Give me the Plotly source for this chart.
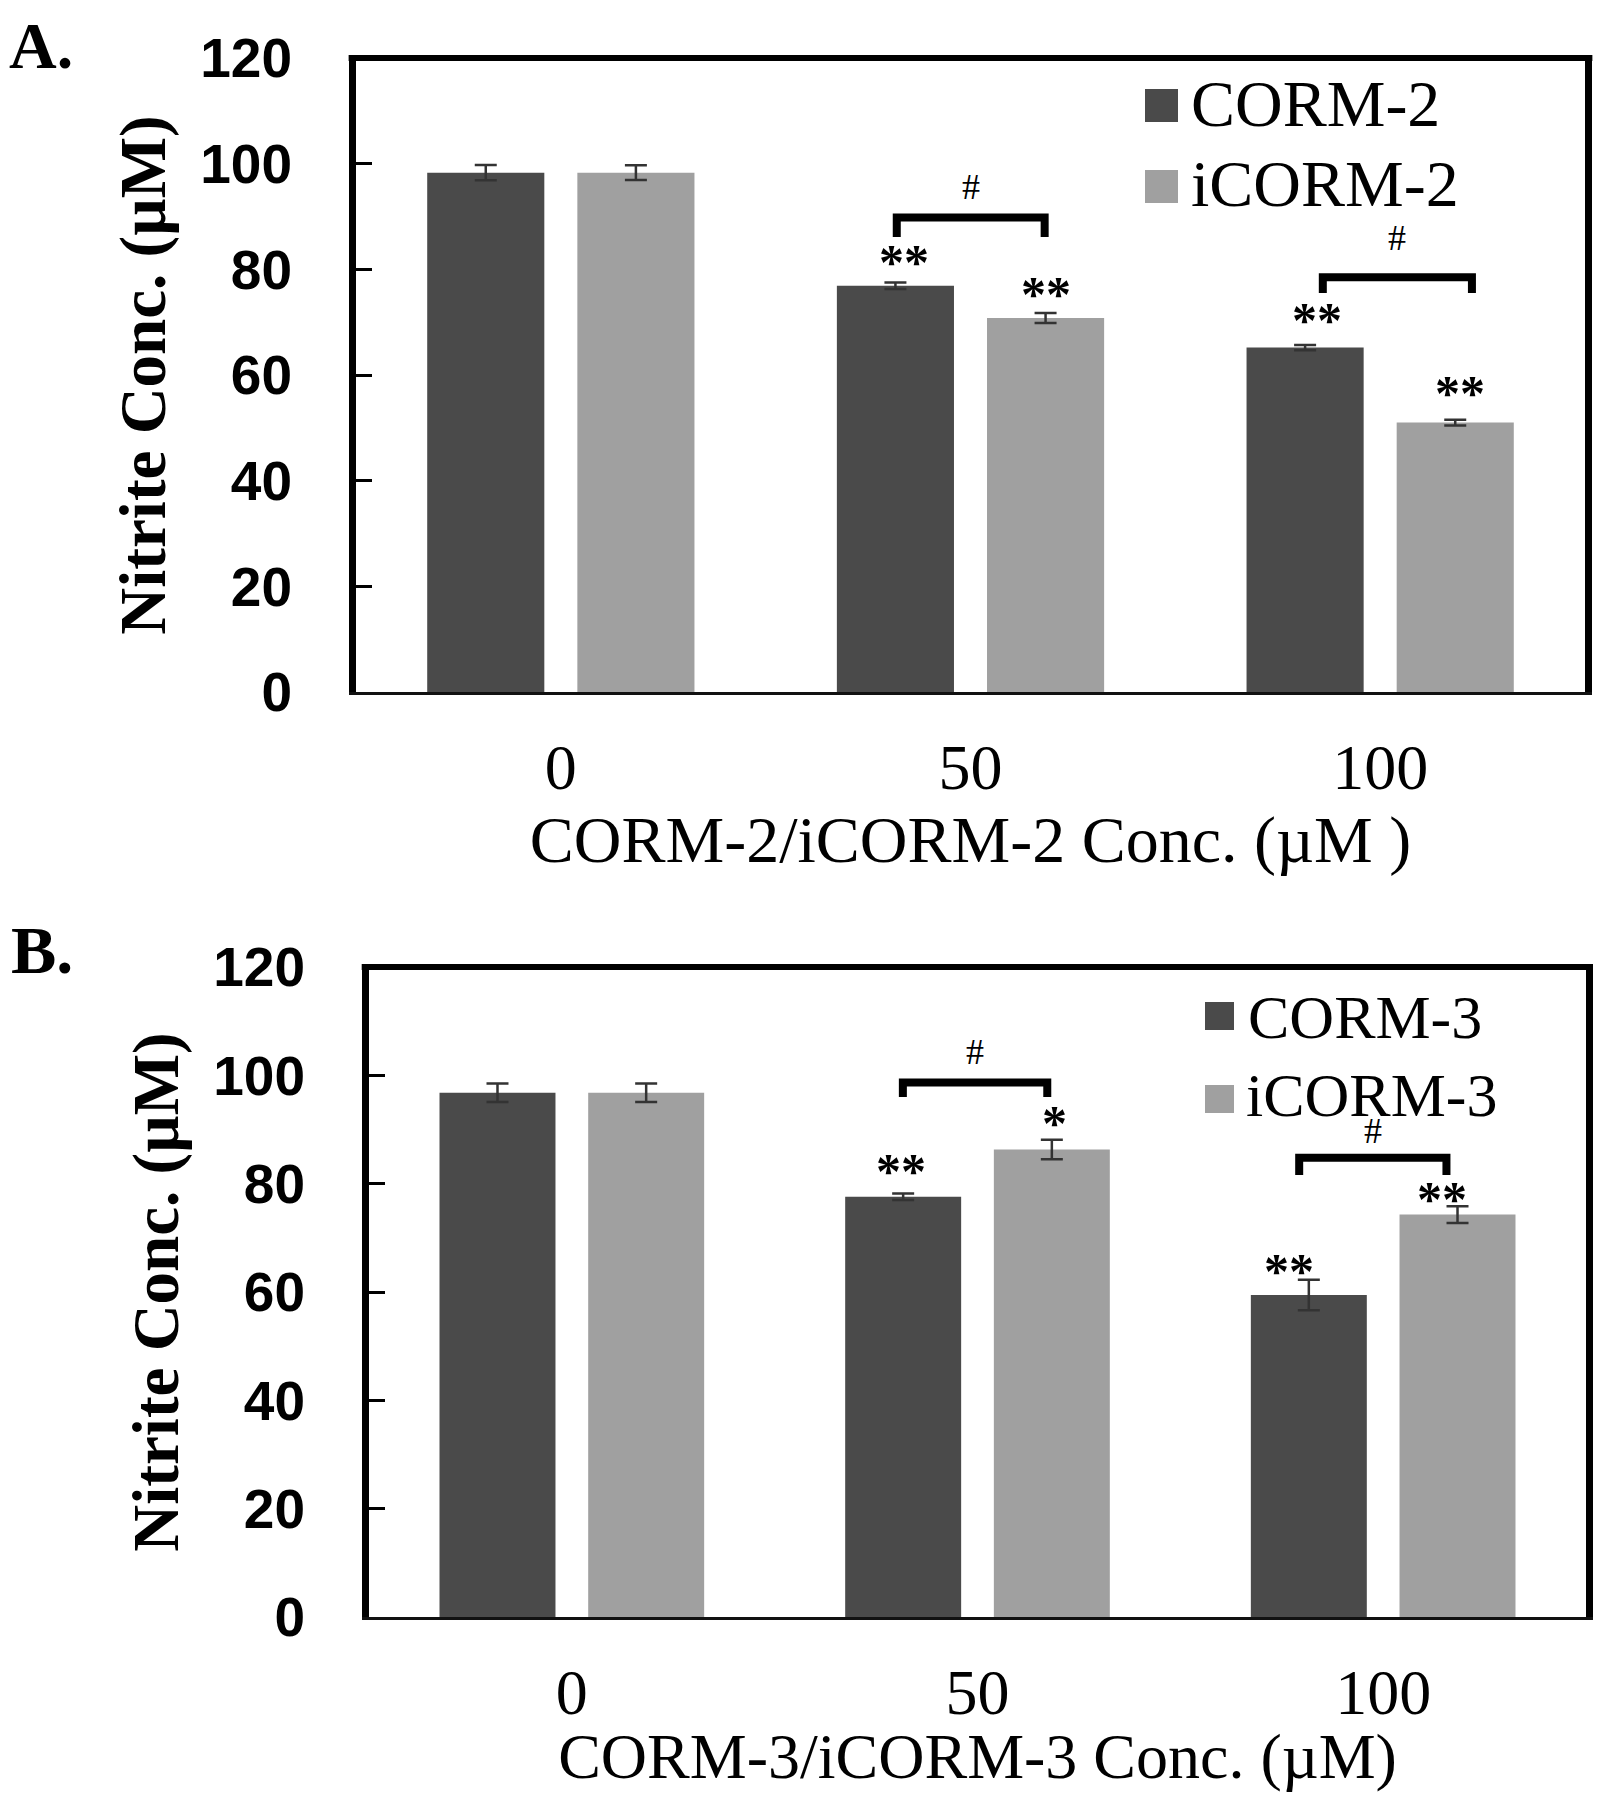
import plotly.graph_objects as go

# ---------------- data ----------------
conc_labels = ["0", "50", "100"]
x_pos = [0, 1, 2]

corm2 = [98.3, 76.9, 65.2]
corm2_err = [1.45, 0.6, 0.5]
icorm2 = [98.3, 70.8, 51.0]
icorm2_err = [1.4, 0.95, 0.55]

corm3 = [96.8, 77.6, 59.45]
corm3_err = [1.7, 0.6, 2.8]
icorm3 = [96.8, 86.3, 74.3]
icorm3_err = [1.7, 1.8, 1.55]

y_ticks = [0, 20, 40, 60, 80, 100, 120]

# significance marks: (category index, series 0=dark/1=light, y, text, x nudge)
stars_A = [(1, 0, 82.7, "**", 0.02), (1, 1, 76.7, "**", 0.0),
           (2, 0, 71.7, "**", 0.03), (2, 1, 57.9, "**", 0.012)]
stars_B = [(1, 0, 83.6, "**", -0.005), (1, 1, 92.5, "*", 0.007),
           (2, 0, 65.2, "**", -0.049), (2, 1, 78.5, "**", -0.039)]
# brackets: (category index, left offset, right offset, top y, leg bottom y, label y)
brackets_A = [(1, -0.18, 0.181, 89.8, 86.1, 95.6), (2, -0.14, 0.224, 78.5, 75.5, 85.9)]
brackets_B = [(1, -0.184, 0.172, 98.7, 96.0, 104.3), (2, -0.207, 0.156, 84.8, 81.6, 89.7)]

DARK = "#4a4a4a"
LIGHT = "#a0a0a0"
ERR = "#333333"
BAR_OFF = 0.18325

SERIF = "Liberation Serif, Times New Roman, serif"
SANS = "Liberation Sans, Arial, sans-serif"

# page is 1601x1800; the figure sits at the 8px body margin
OFF = 8
W, H = 1601 - 2 * OFF, 1800 - 2 * OFF


def px_x(v):
    return (v - OFF) / W


def px_y(v):
    return 1 - (v - OFF) / H


fig = go.Figure()


def add_panel(xa, ya, names, vals, errs):
    for nm, v, e, c in zip(names, vals, errs, [DARK, LIGHT]):
        fig.add_trace(go.Bar(
            x=x_pos, y=v, name=nm, marker=dict(color=c, line=dict(width=0)),
            error_y=dict(type="data", array=e, color=ERR, thickness=2.5, width=11),
            xaxis=xa, yaxis=ya, showlegend=False,
        ))


add_panel("x", "y", ["CORM-2", "iCORM-2"], [corm2, icorm2], [corm2_err, icorm2_err])
add_panel("x2", "y2", ["CORM-3", "iCORM-3"], [corm3, icorm3], [corm3_err, icorm3_err])

annotations = []
shapes = []


def sig_marks(xr, yr, stars, brackets):
    for (ci, s, yv, txt, dx) in stars:
        xc = x_pos[ci] + (-BAR_OFF if s == 0 else BAR_OFF) + dx
        annotations.append(dict(x=xc, y=yv, xref=xr, yref=yr, text=txt, showarrow=False,
                                yshift=-7, font=dict(family=SERIF, size=50, color="black",
                                                     weight="bold")))
    for (ci, l, r, ytop, ybot, ylab) in brackets:
        x0, x1 = x_pos[ci] + l, x_pos[ci] + r
        shapes.append(dict(type="path", xref=xr, yref=yr,
                           path=f"M {x0},{ybot} L {x0},{ytop} L {x1},{ytop} L {x1},{ybot}",
                           line=dict(color="black", width=8)))
        annotations.append(dict(x=(x0 + x1) / 2, y=ylab, xref=xr, yref=yr, text="#",
                                showarrow=False,
                                font=dict(family=SERIF, size=36, color="black")))


sig_marks("x", "y", stars_A, brackets_A)
sig_marks("x2", "y2", stars_B, brackets_B)

# top border lines
for xr, yr in [("x domain", "y domain"), ("x2 domain", "y2 domain")]:
    shapes.append(dict(type="line", xref=xr, yref=yr, x0=-0.006, x1=1.006, y0=1, y1=1,
                       line=dict(color="black", width=6)))


def legend_entry(x0, x1, y0, y1, tx, ty, text, color, size):
    shapes.append(dict(type="rect", xref="paper", yref="paper",
                       x0=px_x(x0), x1=px_x(x1), y0=px_y(y1), y1=px_y(y0),
                       fillcolor=color, line=dict(width=0)))
    annotations.append(dict(x=px_x(tx), y=px_y(ty), xref="paper", yref="paper",
                            xanchor="left", yanchor="middle", text=text, showarrow=False,
                            font=dict(family=SERIF, size=size, color="black")))


legend_entry(1145, 1178, 89, 122, 1189, 103, "CORM-2", DARK, 66)
legend_entry(1145, 1178, 170, 203, 1189, 183, "iCORM-2", LIGHT, 66)
legend_entry(1205, 1234, 1002, 1030, 1246, 1017, "CORM-3", DARK, 62)
legend_entry(1205, 1234, 1085, 1113, 1244, 1095, "iCORM-3", LIGHT, 62)

# panel letters
annotations.append(dict(x=0, y=1, xref="paper", yref="paper", xanchor="left",
                        yanchor="top", text="A.", showarrow=False, borderpad=0,
                        font=dict(family=SERIF, size=66, color="black", weight="bold")))
annotations.append(dict(x=px_x(9), y=px_y(950), xref="paper", yref="paper", xanchor="left",
                        yanchor="middle", text="B.", showarrow=False,
                        font=dict(family=SERIF, size=68, color="black", weight="bold")))

xaxis_common = dict(
    range=[-0.5, 2.5], tickvals=x_pos, ticktext=conc_labels, showgrid=False, zeroline=False,
    showline=True, linecolor="#111111", linewidth=3, ticks="", ticklabelstandoff=17,
    tickfont=dict(family=SERIF, size=64, color="black"), fixedrange=True, automargin=False,
)
yaxis_common = dict(
    range=[0, 120], tickvals=y_ticks, showgrid=False, zeroline=False, showline=True,
    linecolor="black", linewidth=7, mirror=True, ticks="inside", ticklen=16, tickwidth=3,
    tickcolor="black", ticklabelstandoff=46, automargin=False,
    tickfont=dict(family=SANS, size=55, color="black", weight="bold"),
)

fig.update_layout(
    width=W, height=H, margin=dict(l=0, r=0, t=0, b=0, pad=0, autoexpand=False),
    paper_bgcolor="white", plot_bgcolor="white",
    barmode="group", bargap=0.267, bargroupgap=0.22,
    showlegend=False,
    xaxis=dict(xaxis_common, domain=[px_x(356), px_x(1585)], anchor="y",
               title=dict(text="CORM-2/iCORM-2 Conc. (µM )", standoff=8,
                          font=dict(family=SERIF, size=66, color="black"))),
    yaxis=dict(yaxis_common, domain=[px_y(692), px_y(58)], anchor="x",
               title=dict(text="Nitrite Conc. (µM)", standoff=16,
                          font=dict(family=SERIF, size=65, color="black", weight="bold"))),
    xaxis2=dict(xaxis_common, domain=[px_x(369), px_x(1586)], anchor="y2",
                title=dict(text="CORM-3/iCORM-3 Conc. (µM)", standoff=8,
                           font=dict(family=SERIF, size=64, color="black"))),
    yaxis2=dict(yaxis_common, domain=[px_y(1617), px_y(967)], anchor="x2",
                title=dict(text="Nitrite Conc. (µM)", standoff=16,
                           font=dict(family=SERIF, size=65, color="black", weight="bold"))),
    annotations=annotations, shapes=shapes,
)

fig.write_html("out.html")
